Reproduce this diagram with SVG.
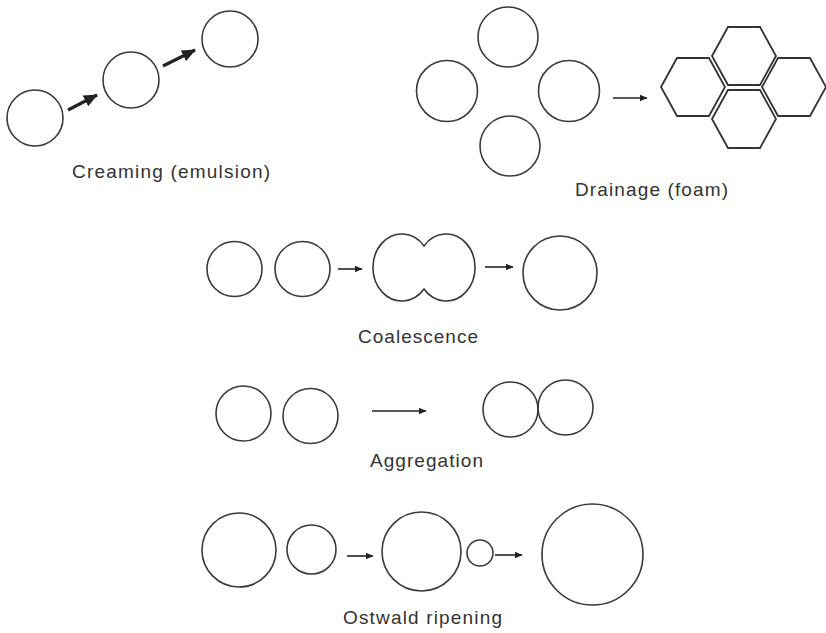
<svg xmlns="http://www.w3.org/2000/svg" width="826" height="633" viewBox="0 0 826 633">
<style>
.s{fill:none;stroke:#3a3a3a;stroke-width:1.6}
.h{fill:none;stroke:#333;stroke-width:1.8;stroke-linejoin:miter}
.a{fill:none;stroke:#222;stroke-width:1.6}
.ta{fill:none;stroke:#222;stroke-width:3.2}
.t{font-family:"Liberation Sans",Arial,sans-serif;font-size:19px;fill:#333}
</style>
<defs>
<marker id="big" markerUnits="userSpaceOnUse" viewBox="0 0 14 12" markerWidth="14" markerHeight="12" refX="13" refY="6" orient="auto">
<path d="M0,0 L14,6 L0,12 Z" fill="#222"/>
</marker>
<marker id="sm" markerUnits="userSpaceOnUse" viewBox="0 0 8 8" markerWidth="8" markerHeight="8" refX="7.5" refY="4" orient="auto">
<path d="M0,0.5 L8,4 L0,7.5 Z" fill="#222"/>
</marker>
</defs>
<rect width="826" height="633" fill="#fff"/>

<g id="creaming">
<circle class="s" cx="35" cy="118" r="28"/>
<circle class="s" cx="131" cy="80" r="28"/>
<circle class="s" cx="230" cy="39" r="28"/>
<text class="t" x="72" y="178" textLength="198" lengthAdjust="spacing">Creaming (emulsion)</text>
</g>

<g id="drainage">
<circle class="s" cx="508" cy="37" r="30"/>
<circle class="s" cx="447" cy="91" r="30.5"/>
<circle class="s" cx="569" cy="91" r="30.5"/>
<circle class="s" cx="510" cy="146" r="30"/>
<g id="foam">
<polygon class="h" points="712,56 728,27 760,27 776,56 760,85 728,85"/>
<polygon class="h" points="661,87 677,58 709,58 725,87 709,116 677,116"/>
<polygon class="h" points="762,87 778,58 810,58 826,87 810,116 778,116"/>
<polygon class="h" points="712,119 728,90 760,90 776,119 760,148 728,148"/>
</g>
<text class="t" x="575" y="196" textLength="153" lengthAdjust="spacing">Drainage (foam)</text>
</g>

<g id="coalescence">
<circle class="s" cx="234.5" cy="269" r="27.5"/>
<circle class="s" cx="302.5" cy="269" r="27.5"/>
<path class="s" d="M424,246 A28.9,33.5 0 1 0 424,289 A28.9,33.5 0 1 0 424,246 Z"/>
<circle class="s" cx="560" cy="273" r="37"/>
<text class="t" x="358" y="343" textLength="120" lengthAdjust="spacing">Coalescence</text>
</g>

<g id="aggregation">
<circle class="s" cx="243.5" cy="413.5" r="27.5"/>
<circle class="s" cx="310.5" cy="416" r="27.5"/>
<circle class="s" cx="510.5" cy="409.5" r="27.5"/>
<circle class="s" cx="565.5" cy="407.5" r="27.5"/>
<text class="t" x="370" y="467" textLength="113" lengthAdjust="spacing">Aggregation</text>
</g>

<g id="ostwald">
<circle class="s" cx="239" cy="550" r="37"/>
<circle class="s" cx="311.5" cy="549.5" r="24.5"/>
<circle class="s" cx="421.5" cy="551.5" r="39.5"/>
<circle class="s" cx="480" cy="553" r="13"/>
<circle class="s" cx="592.5" cy="554.5" r="50.5"/>
<text class="t" x="343" y="624" textLength="159" lengthAdjust="spacing">Ostwald ripening</text>
</g>

<g id="connectors">
<line class="ta" x1="68" y1="110" x2="97" y2="95" marker-end="url(#big)"/>
<line class="ta" x1="163" y1="66" x2="195" y2="50" marker-end="url(#big)"/>
<line class="a" x1="613" y1="98" x2="647" y2="98" marker-end="url(#sm)"/>
<line class="a" x1="338" y1="269" x2="362" y2="269" marker-end="url(#sm)"/>
<line class="a" x1="485" y1="267" x2="513" y2="267" marker-end="url(#sm)"/>
<line class="a" x1="372" y1="411" x2="426" y2="411" marker-end="url(#sm)"/>
<line class="a" x1="347" y1="556" x2="373" y2="556" marker-end="url(#sm)"/>
<line class="a" x1="495" y1="555" x2="522" y2="555" marker-end="url(#sm)"/>
</g>
</svg>
